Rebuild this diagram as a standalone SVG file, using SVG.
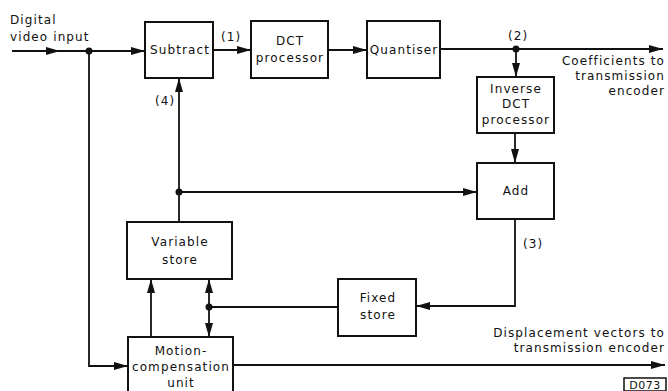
<svg xmlns="http://www.w3.org/2000/svg" width="668" height="391" viewBox="0 0 668 391">
<style>
.box{fill:#fff;stroke:#111;stroke-width:2}
.ln{fill:none;stroke:#111;stroke-width:1.8}
text{font-family:"DejaVu Sans","Liberation Sans",sans-serif;font-size:12px;fill:#111;letter-spacing:1.1px}
.c{text-anchor:middle}
.r{text-anchor:end}
.dot{fill:#111}
</style>
<defs>
<marker id="ah" markerUnits="userSpaceOnUse" markerWidth="16" markerHeight="10" refX="14" refY="5" orient="auto">
<path d="M0,1 L14,5 L0,9 Z" fill="#111"/>
</marker>
</defs>
<rect width="668" height="391" fill="#fff"/>
<g id="connectors">
<path class="ln" d="M12,51 H60" marker-end="url(#ah)"/>
<path class="ln" d="M58,51 H145" marker-end="url(#ah)"/>
<path class="ln" d="M89,51 V366 H128" marker-end="url(#ah)"/>
<path class="ln" d="M213,50 H251" marker-end="url(#ah)"/>
<path class="ln" d="M328,50 H367" marker-end="url(#ah)"/>
<path class="ln" d="M440,49 H663" marker-end="url(#ah)"/>
<path class="ln" d="M516,49 V77" marker-end="url(#ah)"/>
<path class="ln" d="M515,133 V163" marker-end="url(#ah)"/>
<path class="ln" d="M179,222 V78" marker-end="url(#ah)"/>
<path class="ln" d="M179,192 H477" marker-end="url(#ah)"/>
<path class="ln" d="M515,219 V306 H416" marker-end="url(#ah)"/>
<path class="ln" d="M338,307 H209"/>
<path class="ln" d="M209,307 V279" marker-end="url(#ah)"/>
<path class="ln" d="M209,307 V337" marker-end="url(#ah)"/>
<path class="ln" d="M151,337 V279" marker-end="url(#ah)"/>
<path class="ln" d="M233,365 H665" marker-end="url(#ah)"/>
<circle class="dot" cx="89" cy="51" r="3.5"/>
<circle class="dot" cx="516" cy="49" r="3.5"/>
<circle class="dot" cx="179" cy="192" r="3.5"/>
<circle class="dot" cx="209" cy="307" r="3.5"/>
</g>
<g id="labels">
<text x="10" y="24">Digital</text>
<text x="10" y="41">video input</text>
<text x="221" y="41">(1)</text>
<text x="155" y="105">(4)</text>
<text x="508" y="40">(2)</text>
<text x="523" y="248">(3)</text>
<text class="r" x="665" y="65">Coefficients to</text>
<text class="r" x="665" y="80">transmission</text>
<text class="r" x="665" y="95">encoder</text>
<text class="r" x="665" y="337">Displacement vectors to</text>
<text class="r" x="665" y="352">transmission encoder</text>
</g>
<g id="subtract">
<rect class="box" x="145" y="22" width="68" height="56"/>
<text class="c" x="180" y="54">Subtract</text>
</g>
<g id="dct">
<rect class="box" x="251" y="21" width="77" height="57"/>
<text class="c" x="290" y="45">DCT</text>
<text class="c" x="290" y="62">processor</text>
</g>
<g id="quantiser">
<rect class="box" x="367" y="21" width="73" height="57"/>
<text class="c" x="404" y="54">Quantiser</text>
</g>
<g id="inverse-dct">
<rect class="box" x="477" y="77" width="77" height="56"/>
<text class="c" x="516" y="93">Inverse</text>
<text class="c" x="516" y="108">DCT</text>
<text class="c" x="516" y="124">processor</text>
</g>
<g id="add">
<rect class="box" x="477" y="163" width="77" height="56"/>
<text class="c" x="516" y="195">Add</text>
</g>
<g id="variable-store">
<rect class="box" x="127" y="222" width="105" height="57"/>
<text class="c" x="180" y="246">Variable</text>
<text class="c" x="180" y="264">store</text>
</g>
<g id="fixed-store">
<rect class="box" x="338" y="279" width="78" height="57"/>
<text class="c" x="378" y="302">Fixed</text>
<text class="c" x="378" y="319">store</text>
</g>
<g id="motion-compensation">
<rect class="box" x="128" y="337" width="105" height="62"/>
<text class="c" x="181" y="355">Motion-</text>
<text class="c" x="181" y="371">compensation</text>
<text class="c" x="181" y="387">unit</text>
</g>
<g id="ref-tag">
<rect x="624" y="378" width="42" height="13" fill="#fff" stroke="#111" stroke-width="1.5"/>
<text class="c" x="645" y="389" style="font-size:11px;letter-spacing:0.5px">D073</text>
</g>
</svg>
